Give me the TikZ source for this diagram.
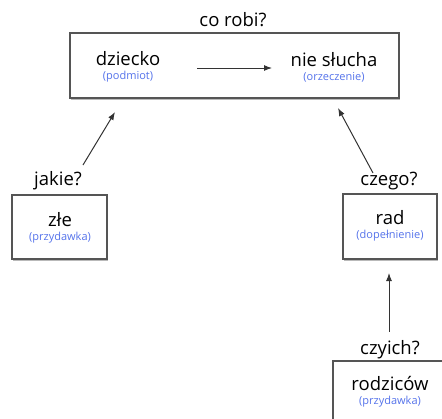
\documentclass[tikz,border=0pt]{standalone}
\usepackage{fontspec}
\setmainfont{Open Sans}
\usetikzlibrary{arrows.meta,shadows}
\definecolor{tagblue}{RGB}{85,115,235}
\definecolor{boxgray}{RGB}{85,85,85}
\newcommand{\wordtag}[1]{\\[-6pt]{\fontsize{11}{12}\selectfont\color{tagblue}(#1)}}
\tikzset{
  wordbox/.style={draw=boxgray, line width=1.2pt, fill=white, inner sep=0pt,
    drop shadow={shadow xshift=1pt, shadow yshift=-1.5pt, fill=gray!55, opacity=1}},
  word/.style={font=\fontsize{18.5}{20}\selectfont, align=center, inner sep=0pt},
  ask/.style={font=\fontsize{18.5}{20}\selectfont, inner sep=0pt},
  arr/.style={-{Latex[length=8pt,width=6pt]}, line width=1pt, draw=black!80},
}
\begin{document}
\begin{tikzpicture}[x=1pt, y=-1pt]
    \useasboundingbox (0,0) rectangle (442,418);
    \clip (0,0) rectangle (442,418);
    % main sentence
    \node[wordbox, minimum width=329pt, minimum height=65pt] (sentence) at (234.5,65.5) {};
    \node[ask] (corobi) at (233,20) {co robi?};
    \node[word] (dziecko) at (128,67) {dziecko\wordtag{podmiot}};
    \node[word] (slucha) at (334,67) {nie słucha\wordtag{orzeczenie}};
    \coordinate (a1) at (197,68);
    \coordinate (a2) at (272,68);
    \draw[arr] (a1) -- (a2);

    % left branch
    \node[wordbox, minimum width=95pt, minimum height=64pt] (zlebox) at (59.5,227) {};
    \node[word] (zle) at (60,228) {złe\wordtag{przydawka}};
    \node[ask] (jakie) at (58,181) {jakie?};
    \coordinate (t1) at (115,112);
    \draw[arr] ([xshift=25pt,yshift=16pt]jakie.center) -- (t1);

    % right branch
    \node[wordbox, minimum width=94pt, minimum height=65pt] (radbox) at (390,226.5) {};
    \node[word] (rad) at (390,226) {rad\wordtag{dopełnienie}};
    \node[ask] (czego) at (389,181) {czego?};
    \coordinate (t2) at (338,108);
    \draw[arr] ([xshift=-16pt,yshift=8pt]czego.center) -- (t2);

    % bottom branch
    \node[wordbox, minimum width=116pt, minimum height=65pt] (rodzbox) at (391,393.5) {};
    \node[word] (rodzicow) at (390,392) {rodziców\wordtag{przydawka}};
    \node[ask] (czyich) at (390,350) {czyich?};
    \coordinate (t3) at (389,273);
    \draw[arr] (czyich.north -| t3) ++(0,-9) -- (t3);
\end{tikzpicture}
\end{document}
